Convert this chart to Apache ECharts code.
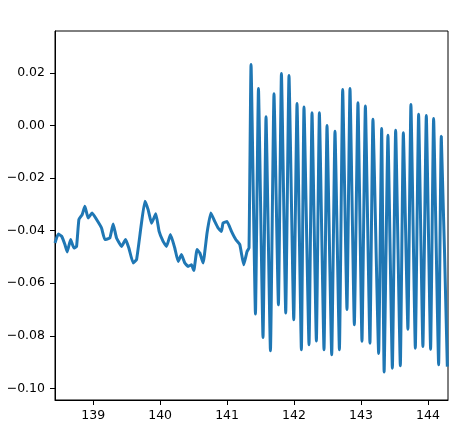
<!DOCTYPE html>
<html>
<head>
<meta charset="utf-8">
<script src="https://cdn.jsdelivr.net/npm/echarts@6/dist/echarts.min.js"></script>
<style>html,body{margin:0;padding:0;background:#fff;}#c{width:467px;height:442px;}</style>
</head>
<body>
<div id="c"></div>
<script>
// Signal values
const xValues = [
  138.43, 138.478, 138.528, 138.578, 138.612, 138.663, 138.712, 138.752, 138.787, 138.836,
  138.876, 138.925, 138.985, 139.051, 139.125, 139.175, 139.249, 139.299, 139.349, 139.424,
  139.484, 139.533, 139.597, 139.648, 139.712, 139.772, 139.821, 139.872, 139.936, 139.985,
  140.045, 140.096, 140.155, 140.219, 140.269, 140.319, 140.369, 140.418, 140.469, 140.503,
  140.552, 140.593, 140.642, 140.701, 140.757, 140.816, 140.866, 140.916, 140.940, 141.000,
  141.066, 141.130, 141.190, 141.249, 141.299, 141.328,
  141.358, 141.424, 141.469, 141.537, 141.582, 141.648, 141.701, 141.767, 141.812, 141.876,
  141.925, 141.996, 142.045, 142.110, 142.149, 142.224, 142.269, 142.334, 142.379, 142.448,
  142.493, 142.563, 142.612, 142.678, 142.727, 142.791, 142.836, 142.901, 142.955, 143.015,
  143.066, 143.134, 143.179, 143.264, 143.309, 143.346, 143.403, 143.469, 143.518, 143.588,
  143.633, 143.701, 143.746, 143.812, 143.861, 143.925, 143.976, 144.040, 144.085, 144.160,
  144.200, 144.290
];
const yValues = [
  -0.0447, -0.0413, -0.0421, -0.0453, -0.0481, -0.0434, -0.0466, -0.0460, -0.0358, -0.0339,
  -0.0307, -0.0352, -0.0333, -0.0358, -0.0390, -0.0434, -0.0428, -0.0375, -0.0428, -0.0460,
  -0.0434, -0.0466, -0.0523, -0.0510, -0.0390, -0.0288, -0.0320, -0.0372, -0.0336, -0.0403,
  -0.0441, -0.0460, -0.0415, -0.0466, -0.0517, -0.0491, -0.0523, -0.0536, -0.0530, -0.0552,
  -0.0472, -0.0485, -0.0523, -0.0409, -0.0333, -0.0365, -0.0390, -0.0403, -0.0371, -0.0365,
  -0.0403, -0.0434, -0.0453, -0.0530, -0.0479, -0.0466,
  0.0232, -0.0717, 0.0140, -0.0806, 0.0033, -0.0857, 0.0120, -0.0682, 0.0197, -0.0713,
  0.0190, -0.0739, 0.0083, -0.0853, 0.0070, -0.0834, 0.0048, -0.0820, 0.0048, -0.0853,
  0.0000, -0.0872, -0.0022, -0.0853, 0.0137, -0.0700, 0.0140, -0.0758, 0.0086, -0.0821,
  0.0074, -0.0828, 0.0023, -0.0867, -0.0012, -0.0938, -0.0037, -0.0923, -0.0018, -0.0914,
  -0.0028, -0.0775, 0.0080, -0.0847, 0.0042, -0.0841, 0.0038, -0.0851, 0.0026, -0.0910,
  -0.0041, -0.0917
];
const xTicks = [139, 140, 141, 142, 143, 144];
const yTicks = [-0.10, -0.08, -0.06, -0.04, -0.02, 0.00, 0.02];

const data = xValues.map((x, i) => [x, yValues[i]]);
const font = 'DejaVu Sans';
const chart = echarts.init(document.getElementById('c'), null, {renderer: 'canvas'});
chart.setOption({
  animation: false,
  backgroundColor: '#ffffff',
  grid: {left: 55, right: 19, top: 31, bottom: 42, show: true, borderColor: '#000', borderWidth: 1, backgroundColor: 'transparent'},
  xAxis: {
    type: 'value', min: 138.43, max: 144.30,
    axisLine: {show: true, onZero: false, lineStyle: {color: '#000', width: 1}},
    axisTick: {show: true, length: 5, lineStyle: {color: '#000'}, customValues: xTicks},
    axisLabel: {customValues: xTicks, color: '#000', fontFamily: font, fontSize: 12.5, margin: 9, formatter: v => String(Math.round(v))},
    splitLine: {show: false}
  },
  yAxis: {
    type: 'value', min: -0.1044, max: 0.0359,
    axisLine: {show: true, onZero: false, lineStyle: {color: '#000', width: 1}},
    axisTick: {show: true, length: 5, lineStyle: {color: '#000'}, customValues: yTicks},
    axisLabel: {customValues: yTicks, color: '#000', fontFamily: font, fontSize: 12.5, margin: 10,
      formatter: v => { const s = Math.abs(v).toFixed(2); return v < -1e-9 ? '\u2212' + s : s; }},
    splitLine: {show: false}
  },
  series: [{
    type: 'line', data: data, showSymbol: false, smooth: 0.12,
    lineStyle: {color: '#1f77b4', width: 3}, clip: true
  }]
});
</script>
</body>
</html>
